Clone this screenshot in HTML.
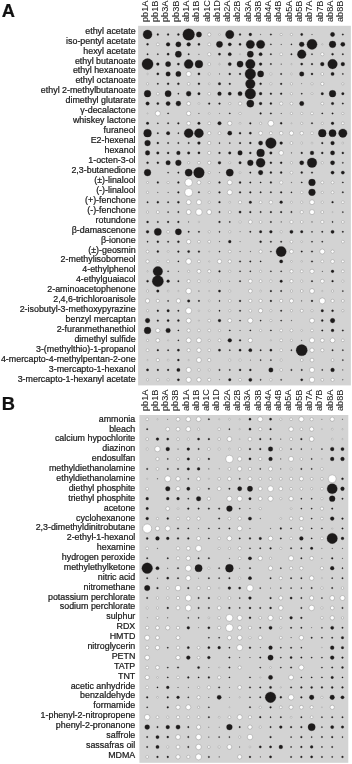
<!DOCTYPE html>
<html lang="en"><head><meta charset="utf-8"><title>Figure</title>
<style>
html,body{margin:0;padding:0;background:#fff}
svg{display:block}
text{font-family:"Liberation Sans",sans-serif;fill:#1a1a1a;stroke:#1a1a1a;stroke-width:.22px}
.r{font-size:8.9px;text-anchor:end}
.c text{font-size:9.2px;stroke-width:.03px}
.L{font-size:18.3px;font-weight:bold;fill:#111}
.k{fill:#1c1a1a;stroke:#1c1a1a;stroke-opacity:.4;stroke-width:.7}
.w{fill:#fff;stroke:#858585;stroke-width:.42}
</style></head>
<body>
<svg width="352" height="764" viewBox="0 0 352 764">
<g id="panelA">
<rect x="138.1" y="25.8" width="212.8" height="359.6" fill="#d3d3d3"/>
<text class="L" x="1.75" y="16.9">A</text>
<g class="c">
<text transform="translate(147.85 22) rotate(-90) scale(1 1)">pb1A</text>
<text transform="translate(158.13 22) rotate(-90) scale(1 1)">pb1B</text>
<text transform="translate(168.41 22) rotate(-90) scale(1 1)">pb3A</text>
<text transform="translate(178.68 22) rotate(-90) scale(1 1)">pb3B</text>
<text transform="translate(188.96 22) rotate(-90) scale(1 1)">ab1A</text>
<text transform="translate(199.24 22) rotate(-90) scale(1 1)">ab1B</text>
<text transform="translate(209.52 22) rotate(-90) scale(1 1)">ab1C</text>
<text transform="translate(219.8 22) rotate(-90) scale(1 1)">ab1D</text>
<text transform="translate(230.07 22) rotate(-90) scale(1 1)">ab2A</text>
<text transform="translate(240.35 22) rotate(-90) scale(1 1)">ab2B</text>
<text transform="translate(250.63 22) rotate(-90) scale(1 1)">ab3A</text>
<text transform="translate(260.91 22) rotate(-90) scale(1 1)">ab3B</text>
<text transform="translate(271.19 22) rotate(-90) scale(1 1)">ab4A</text>
<text transform="translate(281.46 22) rotate(-90) scale(1 1)">ab4B</text>
<text transform="translate(291.74 22) rotate(-90) scale(1 1)">ab5A</text>
<text transform="translate(302.02 22) rotate(-90) scale(1 1)">ab5B</text>
<text transform="translate(312.3 22) rotate(-90) scale(1 1)">ab7A</text>
<text transform="translate(322.58 22) rotate(-90) scale(1 1)">ab7B</text>
<text transform="translate(332.85 22) rotate(-90) scale(1 1)">ab8A</text>
<text transform="translate(343.13 22) rotate(-90) scale(1 1)">ab8B</text>
</g>
<g class="r">
<text x="135.6" y="33.7">ethyl acetate</text>
<text x="135.6" y="43.65">iso-pentyl acetate</text>
<text x="135.6" y="53.59">hexyl acetate</text>
<text x="135.6" y="63.54">ethyl butanoate</text>
<text x="135.6" y="73.48">ethyl hexanoate</text>
<text x="135.6" y="83.43">ethyl octanoate</text>
<text x="135.6" y="93.38">ethyl 2-methylbutanoate</text>
<text x="135.6" y="103.32">dimethyl glutarate</text>
<text x="135.6" y="113.27">γ-decalactone</text>
<text x="135.6" y="123.21">whiskey lactone</text>
<text x="135.6" y="133.16">furaneol</text>
<text x="135.6" y="143.11">E2-hexenal</text>
<text x="135.6" y="153.05">hexanol</text>
<text x="135.6" y="163">1-octen-3-ol</text>
<text x="135.6" y="172.94">2,3-butanedione</text>
<text x="135.6" y="182.89">(±)-linalool</text>
<text x="135.6" y="192.84">(-)-linalool</text>
<text x="135.6" y="202.78">(+)-fenchone</text>
<text x="135.6" y="212.73">(-)-fenchone</text>
<text x="135.6" y="222.67">rotundone</text>
<text x="135.6" y="232.62">β-damascenone</text>
<text x="135.6" y="242.57">β-ionone</text>
<text x="135.6" y="252.51">(±)-geosmin</text>
<text x="135.6" y="262.46">2-methylisoborneol</text>
<text x="135.6" y="272.4">4-ethylphenol</text>
<text x="135.6" y="282.35">4-ethylguaiacol</text>
<text x="135.6" y="292.3">2-aminoacetophenone</text>
<text x="135.6" y="302.24">2,4,6-trichloroanisole</text>
<text x="135.6" y="312.19">2-isobutyl-3-methoxypyrazine</text>
<text x="135.6" y="322.13">benzyl mercaptan</text>
<text x="135.6" y="332.08">2-furanmethanethiol</text>
<text x="135.6" y="342.03">dimethyl sulfide</text>
<text x="135.6" y="351.97">3-(methylthio)-1-propanol</text>
<text x="135.6" y="361.92">4-mercapto-4-methylpentan-2-one</text>
<text x="135.6" y="371.86">3-mercapto-1-hexanol</text>
<text x="135.6" y="381.81">3-mercapto-1-hexanyl acetate</text>
</g>
<g class="k">
<circle cx="147.55" cy="34.5" r="4.51"/>
<circle cx="157.83" cy="34.5" r="0.88"/>
<circle cx="168.11" cy="34.5" r="0.88"/>
<circle cx="178.38" cy="34.5" r="1"/>
<circle cx="188.66" cy="34.5" r="5.85"/>
<circle cx="198.94" cy="34.5" r="2.63"/>
<circle cx="229.77" cy="34.5" r="4.22"/>
<circle cx="240.05" cy="34.5" r="0.88"/>
<circle cx="250.33" cy="34.5" r="1.38"/>
<circle cx="260.61" cy="34.5" r="0.35"/>
<circle cx="270.89" cy="34.5" r="0.76"/>
<circle cx="301.72" cy="34.5" r="1.13"/>
<circle cx="312" cy="34.5" r="0.35"/>
<circle cx="332.55" cy="34.5" r="2.13"/>
<circle cx="342.83" cy="34.5" r="0.76"/>
<circle cx="147.55" cy="44.37" r="1"/>
<circle cx="168.11" cy="44.37" r="1.88"/>
<circle cx="178.38" cy="44.37" r="2.63"/>
<circle cx="188.66" cy="44.37" r="1.88"/>
<circle cx="198.94" cy="44.37" r="1.13"/>
<circle cx="219.5" cy="44.37" r="3.13"/>
<circle cx="229.77" cy="44.37" r="1.63"/>
<circle cx="240.05" cy="44.37" r="1.13"/>
<circle cx="250.33" cy="44.37" r="4.22"/>
<circle cx="260.61" cy="44.37" r="4.22"/>
<circle cx="270.89" cy="44.37" r="0.63"/>
<circle cx="281.16" cy="44.37" r="0.35"/>
<circle cx="291.44" cy="44.37" r="0.63"/>
<circle cx="301.72" cy="44.37" r="2.46"/>
<circle cx="312" cy="44.37" r="5.1"/>
<circle cx="332.55" cy="44.37" r="3.38"/>
<circle cx="342.83" cy="44.37" r="2.13"/>
<circle cx="147.55" cy="54.23" r="0.76"/>
<circle cx="157.83" cy="54.23" r="0.63"/>
<circle cx="168.11" cy="54.23" r="1.13"/>
<circle cx="178.38" cy="54.23" r="3.13"/>
<circle cx="188.66" cy="54.23" r="0.76"/>
<circle cx="198.94" cy="54.23" r="0.35"/>
<circle cx="219.5" cy="54.23" r="1.13"/>
<circle cx="229.77" cy="54.23" r="1.63"/>
<circle cx="250.33" cy="54.23" r="3.13"/>
<circle cx="260.61" cy="54.23" r="1.63"/>
<circle cx="270.89" cy="54.23" r="0.76"/>
<circle cx="291.44" cy="54.23" r="0.76"/>
<circle cx="301.72" cy="54.23" r="4.37"/>
<circle cx="312" cy="54.23" r="0.63"/>
<circle cx="332.55" cy="54.23" r="1"/>
<circle cx="342.83" cy="54.23" r="0.76"/>
<circle cx="147.55" cy="64.1" r="5.6"/>
<circle cx="157.83" cy="64.1" r="1.38"/>
<circle cx="168.11" cy="64.1" r="2.63"/>
<circle cx="178.38" cy="64.1" r="1.13"/>
<circle cx="188.66" cy="64.1" r="4.51"/>
<circle cx="198.94" cy="64.1" r="3.92"/>
<circle cx="229.77" cy="64.1" r="1.63"/>
<circle cx="240.05" cy="64.1" r="3.13"/>
<circle cx="250.33" cy="64.1" r="4.81"/>
<circle cx="260.61" cy="64.1" r="1.38"/>
<circle cx="270.89" cy="64.1" r="0.76"/>
<circle cx="281.16" cy="64.1" r="0.35"/>
<circle cx="301.72" cy="64.1" r="1.13"/>
<circle cx="312" cy="64.1" r="0.88"/>
<circle cx="322.28" cy="64.1" r="1.88"/>
<circle cx="332.55" cy="64.1" r="4.81"/>
<circle cx="342.83" cy="64.1" r="1.88"/>
<circle cx="157.83" cy="73.96" r="1.13"/>
<circle cx="168.11" cy="73.96" r="2.3"/>
<circle cx="178.38" cy="73.96" r="2.63"/>
<circle cx="198.94" cy="73.96" r="1.13"/>
<circle cx="219.5" cy="73.96" r="0.35"/>
<circle cx="229.77" cy="73.96" r="1"/>
<circle cx="240.05" cy="73.96" r="0.88"/>
<circle cx="250.33" cy="73.96" r="5.35"/>
<circle cx="260.61" cy="73.96" r="3.13"/>
<circle cx="281.16" cy="73.96" r="0.76"/>
<circle cx="301.72" cy="73.96" r="2.3"/>
<circle cx="312" cy="73.96" r="1"/>
<circle cx="332.55" cy="73.96" r="1.63"/>
<circle cx="342.83" cy="73.96" r="0.63"/>
<circle cx="157.83" cy="83.83" r="0.76"/>
<circle cx="168.11" cy="83.83" r="1"/>
<circle cx="178.38" cy="83.83" r="1"/>
<circle cx="198.94" cy="83.83" r="1"/>
<circle cx="219.5" cy="83.83" r="1.25"/>
<circle cx="229.77" cy="83.83" r="0.88"/>
<circle cx="250.33" cy="83.83" r="4.81"/>
<circle cx="260.61" cy="83.83" r="1"/>
<circle cx="281.16" cy="83.83" r="0.88"/>
<circle cx="301.72" cy="83.83" r="0.23"/>
<circle cx="147.55" cy="93.7" r="3.38"/>
<circle cx="168.11" cy="93.7" r="3.13"/>
<circle cx="178.38" cy="93.7" r="0.63"/>
<circle cx="188.66" cy="93.7" r="2.46"/>
<circle cx="198.94" cy="93.7" r="1.25"/>
<circle cx="219.5" cy="93.7" r="1.88"/>
<circle cx="229.77" cy="93.7" r="1.63"/>
<circle cx="240.05" cy="93.7" r="2.13"/>
<circle cx="250.33" cy="93.7" r="5.35"/>
<circle cx="260.61" cy="93.7" r="1.38"/>
<circle cx="270.89" cy="93.7" r="0.88"/>
<circle cx="281.16" cy="93.7" r="0.88"/>
<circle cx="301.72" cy="93.7" r="0.63"/>
<circle cx="322.28" cy="93.7" r="1.25"/>
<circle cx="332.55" cy="93.7" r="3.38"/>
<circle cx="342.83" cy="93.7" r="1.25"/>
<circle cx="147.55" cy="103.56" r="1.75"/>
<circle cx="157.83" cy="103.56" r="1.13"/>
<circle cx="168.11" cy="103.56" r="2.13"/>
<circle cx="178.38" cy="103.56" r="2.46"/>
<circle cx="209.22" cy="103.56" r="0.88"/>
<circle cx="219.5" cy="103.56" r="0.88"/>
<circle cx="250.33" cy="103.56" r="3.63"/>
<circle cx="260.61" cy="103.56" r="1.38"/>
<circle cx="270.89" cy="103.56" r="1"/>
<circle cx="301.72" cy="103.56" r="2.21"/>
<circle cx="332.55" cy="103.56" r="1.25"/>
<circle cx="342.83" cy="103.56" r="0.76"/>
<circle cx="168.11" cy="113.43" r="0.63"/>
<circle cx="198.94" cy="113.43" r="0.35"/>
<circle cx="219.5" cy="113.43" r="0.23"/>
<circle cx="229.77" cy="113.43" r="0.63"/>
<circle cx="260.61" cy="113.43" r="0.88"/>
<circle cx="270.89" cy="113.43" r="0.76"/>
<circle cx="281.16" cy="113.43" r="0.35"/>
<circle cx="322.28" cy="113.43" r="0.63"/>
<circle cx="332.55" cy="113.43" r="0.76"/>
<circle cx="147.55" cy="123.29" r="1.25"/>
<circle cx="157.83" cy="123.29" r="0.63"/>
<circle cx="168.11" cy="123.29" r="0.76"/>
<circle cx="178.38" cy="123.29" r="0.88"/>
<circle cx="198.94" cy="123.29" r="1.25"/>
<circle cx="219.5" cy="123.29" r="1.75"/>
<circle cx="250.33" cy="123.29" r="0.88"/>
<circle cx="281.16" cy="123.29" r="1"/>
<circle cx="312" cy="123.29" r="0.76"/>
<circle cx="332.55" cy="123.29" r="1.38"/>
<circle cx="147.55" cy="133.16" r="3.92"/>
<circle cx="157.83" cy="133.16" r="0.76"/>
<circle cx="168.11" cy="133.16" r="1.75"/>
<circle cx="178.38" cy="133.16" r="0.63"/>
<circle cx="188.66" cy="133.16" r="4.51"/>
<circle cx="198.94" cy="133.16" r="4.51"/>
<circle cx="229.77" cy="133.16" r="2.13"/>
<circle cx="240.05" cy="133.16" r="1"/>
<circle cx="250.33" cy="133.16" r="1.13"/>
<circle cx="322.28" cy="133.16" r="3.92"/>
<circle cx="332.55" cy="133.16" r="3.63"/>
<circle cx="342.83" cy="133.16" r="4.22"/>
<circle cx="147.55" cy="143.03" r="2.88"/>
<circle cx="157.83" cy="143.03" r="1"/>
<circle cx="168.11" cy="143.03" r="0.76"/>
<circle cx="178.38" cy="143.03" r="0.76"/>
<circle cx="188.66" cy="143.03" r="0.76"/>
<circle cx="198.94" cy="143.03" r="1.38"/>
<circle cx="219.5" cy="143.03" r="0.63"/>
<circle cx="229.77" cy="143.03" r="0.63"/>
<circle cx="240.05" cy="143.03" r="0.88"/>
<circle cx="250.33" cy="143.03" r="1"/>
<circle cx="260.61" cy="143.03" r="2.13"/>
<circle cx="270.89" cy="143.03" r="5.35"/>
<circle cx="281.16" cy="143.03" r="1.38"/>
<circle cx="322.28" cy="143.03" r="0.88"/>
<circle cx="332.55" cy="143.03" r="1.88"/>
<circle cx="147.55" cy="152.89" r="2.3"/>
<circle cx="157.83" cy="152.89" r="1.25"/>
<circle cx="168.11" cy="152.89" r="1"/>
<circle cx="178.38" cy="152.89" r="1.88"/>
<circle cx="188.66" cy="152.89" r="1.25"/>
<circle cx="198.94" cy="152.89" r="1.13"/>
<circle cx="219.5" cy="152.89" r="0.88"/>
<circle cx="229.77" cy="152.89" r="1.25"/>
<circle cx="240.05" cy="152.89" r="2.3"/>
<circle cx="250.33" cy="152.89" r="1"/>
<circle cx="260.61" cy="152.89" r="3.92"/>
<circle cx="270.89" cy="152.89" r="1.25"/>
<circle cx="291.44" cy="152.89" r="0.35"/>
<circle cx="301.72" cy="152.89" r="0.88"/>
<circle cx="312" cy="152.89" r="1.88"/>
<circle cx="322.28" cy="152.89" r="1"/>
<circle cx="332.55" cy="152.89" r="2.13"/>
<circle cx="342.83" cy="152.89" r="1"/>
<circle cx="147.55" cy="162.76" r="1"/>
<circle cx="157.83" cy="162.76" r="1"/>
<circle cx="168.11" cy="162.76" r="2.3"/>
<circle cx="178.38" cy="162.76" r="2.88"/>
<circle cx="219.5" cy="162.76" r="1.38"/>
<circle cx="240.05" cy="162.76" r="1.25"/>
<circle cx="250.33" cy="162.76" r="2.88"/>
<circle cx="260.61" cy="162.76" r="4.51"/>
<circle cx="270.89" cy="162.76" r="1"/>
<circle cx="281.16" cy="162.76" r="1"/>
<circle cx="301.72" cy="162.76" r="2.13"/>
<circle cx="312" cy="162.76" r="4.81"/>
<circle cx="332.55" cy="162.76" r="2.13"/>
<circle cx="342.83" cy="162.76" r="0.63"/>
<circle cx="147.55" cy="172.62" r="3.38"/>
<circle cx="168.11" cy="172.62" r="0.63"/>
<circle cx="178.38" cy="172.62" r="0.76"/>
<circle cx="188.66" cy="172.62" r="3.63"/>
<circle cx="198.94" cy="172.62" r="5.35"/>
<circle cx="219.5" cy="172.62" r="0.35"/>
<circle cx="229.77" cy="172.62" r="3.63"/>
<circle cx="250.33" cy="172.62" r="0.76"/>
<circle cx="260.61" cy="172.62" r="2.3"/>
<circle cx="270.89" cy="172.62" r="1"/>
<circle cx="281.16" cy="172.62" r="1"/>
<circle cx="301.72" cy="172.62" r="1"/>
<circle cx="312" cy="172.62" r="0.76"/>
<circle cx="332.55" cy="172.62" r="1.63"/>
<circle cx="342.83" cy="172.62" r="1.63"/>
<circle cx="157.83" cy="182.49" r="0.88"/>
<circle cx="178.38" cy="182.49" r="0.88"/>
<circle cx="219.5" cy="182.49" r="0.88"/>
<circle cx="240.05" cy="182.49" r="1"/>
<circle cx="250.33" cy="182.49" r="0.76"/>
<circle cx="260.61" cy="182.49" r="0.63"/>
<circle cx="270.89" cy="182.49" r="0.88"/>
<circle cx="291.44" cy="182.49" r="0.35"/>
<circle cx="301.72" cy="182.49" r="0.63"/>
<circle cx="312" cy="182.49" r="3.38"/>
<circle cx="342.83" cy="182.49" r="0.63"/>
<circle cx="157.83" cy="192.36" r="0.35"/>
<circle cx="168.11" cy="192.36" r="0.35"/>
<circle cx="178.38" cy="192.36" r="0.88"/>
<circle cx="198.94" cy="192.36" r="0.76"/>
<circle cx="219.5" cy="192.36" r="0.88"/>
<circle cx="240.05" cy="192.36" r="0.88"/>
<circle cx="250.33" cy="192.36" r="0.88"/>
<circle cx="260.61" cy="192.36" r="0.76"/>
<circle cx="270.89" cy="192.36" r="0.76"/>
<circle cx="281.16" cy="192.36" r="0.88"/>
<circle cx="291.44" cy="192.36" r="0.63"/>
<circle cx="312" cy="192.36" r="3.38"/>
<circle cx="342.83" cy="192.36" r="0.76"/>
<circle cx="147.55" cy="202.22" r="0.76"/>
<circle cx="157.83" cy="202.22" r="1"/>
<circle cx="168.11" cy="202.22" r="0.76"/>
<circle cx="178.38" cy="202.22" r="1"/>
<circle cx="219.5" cy="202.22" r="0.88"/>
<circle cx="250.33" cy="202.22" r="1.25"/>
<circle cx="281.16" cy="202.22" r="1.38"/>
<circle cx="332.55" cy="202.22" r="0.88"/>
<circle cx="168.11" cy="212.09" r="0.63"/>
<circle cx="178.38" cy="212.09" r="0.76"/>
<circle cx="219.5" cy="212.09" r="0.76"/>
<circle cx="240.05" cy="212.09" r="1.13"/>
<circle cx="250.33" cy="212.09" r="0.88"/>
<circle cx="260.61" cy="212.09" r="0.76"/>
<circle cx="270.89" cy="212.09" r="0.88"/>
<circle cx="281.16" cy="212.09" r="0.88"/>
<circle cx="291.44" cy="212.09" r="0.76"/>
<circle cx="342.83" cy="212.09" r="0.63"/>
<circle cx="147.55" cy="221.95" r="1"/>
<circle cx="157.83" cy="221.95" r="0.76"/>
<circle cx="168.11" cy="221.95" r="0.88"/>
<circle cx="178.38" cy="221.95" r="0.88"/>
<circle cx="188.66" cy="221.95" r="0.35"/>
<circle cx="219.5" cy="221.95" r="0.88"/>
<circle cx="229.77" cy="221.95" r="0.63"/>
<circle cx="270.89" cy="221.95" r="0.76"/>
<circle cx="281.16" cy="221.95" r="0.35"/>
<circle cx="312" cy="221.95" r="0.35"/>
<circle cx="332.55" cy="221.95" r="0.63"/>
<circle cx="147.55" cy="231.82" r="1.38"/>
<circle cx="157.83" cy="231.82" r="3.63"/>
<circle cx="178.38" cy="231.82" r="3.13"/>
<circle cx="188.66" cy="231.82" r="0.76"/>
<circle cx="198.94" cy="231.82" r="0.76"/>
<circle cx="219.5" cy="231.82" r="0.63"/>
<circle cx="240.05" cy="231.82" r="0.23"/>
<circle cx="250.33" cy="231.82" r="0.76"/>
<circle cx="260.61" cy="231.82" r="1.25"/>
<circle cx="270.89" cy="231.82" r="1.38"/>
<circle cx="291.44" cy="231.82" r="1.63"/>
<circle cx="301.72" cy="231.82" r="1.25"/>
<circle cx="312" cy="231.82" r="0.63"/>
<circle cx="322.28" cy="231.82" r="0.76"/>
<circle cx="332.55" cy="231.82" r="1.63"/>
<circle cx="342.83" cy="231.82" r="0.76"/>
<circle cx="147.55" cy="241.69" r="0.63"/>
<circle cx="157.83" cy="241.69" r="1"/>
<circle cx="168.11" cy="241.69" r="0.76"/>
<circle cx="178.38" cy="241.69" r="1"/>
<circle cx="219.5" cy="241.69" r="0.35"/>
<circle cx="229.77" cy="241.69" r="1.38"/>
<circle cx="240.05" cy="241.69" r="0.23"/>
<circle cx="260.61" cy="241.69" r="1"/>
<circle cx="270.89" cy="241.69" r="0.76"/>
<circle cx="281.16" cy="241.69" r="0.76"/>
<circle cx="312" cy="241.69" r="0.63"/>
<circle cx="322.28" cy="241.69" r="0.63"/>
<circle cx="157.83" cy="251.55" r="1"/>
<circle cx="178.38" cy="251.55" r="0.88"/>
<circle cx="188.66" cy="251.55" r="1.13"/>
<circle cx="198.94" cy="251.55" r="0.88"/>
<circle cx="219.5" cy="251.55" r="0.63"/>
<circle cx="240.05" cy="251.55" r="0.35"/>
<circle cx="250.33" cy="251.55" r="0.35"/>
<circle cx="270.89" cy="251.55" r="0.63"/>
<circle cx="281.16" cy="251.55" r="5.1"/>
<circle cx="301.72" cy="251.55" r="0.76"/>
<circle cx="312" cy="251.55" r="0.76"/>
<circle cx="178.38" cy="261.42" r="0.63"/>
<circle cx="240.05" cy="261.42" r="0.76"/>
<circle cx="250.33" cy="261.42" r="0.76"/>
<circle cx="260.61" cy="261.42" r="0.63"/>
<circle cx="281.16" cy="261.42" r="1.63"/>
<circle cx="312" cy="261.42" r="0.76"/>
<circle cx="157.83" cy="271.28" r="4.81"/>
<circle cx="168.11" cy="271.28" r="0.63"/>
<circle cx="178.38" cy="271.28" r="0.35"/>
<circle cx="219.5" cy="271.28" r="0.88"/>
<circle cx="240.05" cy="271.28" r="0.63"/>
<circle cx="250.33" cy="271.28" r="0.63"/>
<circle cx="270.89" cy="271.28" r="0.63"/>
<circle cx="281.16" cy="271.28" r="0.63"/>
<circle cx="322.28" cy="271.28" r="0.35"/>
<circle cx="332.55" cy="271.28" r="1.38"/>
<circle cx="147.55" cy="281.15" r="1"/>
<circle cx="157.83" cy="281.15" r="5.6"/>
<circle cx="168.11" cy="281.15" r="1.38"/>
<circle cx="178.38" cy="281.15" r="0.76"/>
<circle cx="229.77" cy="281.15" r="0.23"/>
<circle cx="240.05" cy="281.15" r="0.76"/>
<circle cx="281.16" cy="281.15" r="1.25"/>
<circle cx="312" cy="281.15" r="0.76"/>
<circle cx="332.55" cy="281.15" r="0.88"/>
<circle cx="157.83" cy="291.02" r="1.25"/>
<circle cx="198.94" cy="291.02" r="0.35"/>
<circle cx="219.5" cy="291.02" r="1.13"/>
<circle cx="270.89" cy="291.02" r="0.88"/>
<circle cx="281.16" cy="291.02" r="0.76"/>
<circle cx="342.83" cy="291.02" r="0.63"/>
<circle cx="168.11" cy="300.88" r="0.63"/>
<circle cx="188.66" cy="300.88" r="1.25"/>
<circle cx="198.94" cy="300.88" r="0.76"/>
<circle cx="219.5" cy="300.88" r="0.63"/>
<circle cx="240.05" cy="300.88" r="0.88"/>
<circle cx="270.89" cy="300.88" r="0.88"/>
<circle cx="301.72" cy="300.88" r="0.35"/>
<circle cx="312" cy="300.88" r="0.88"/>
<circle cx="157.83" cy="310.75" r="0.88"/>
<circle cx="168.11" cy="310.75" r="1.25"/>
<circle cx="178.38" cy="310.75" r="0.76"/>
<circle cx="219.5" cy="310.75" r="0.63"/>
<circle cx="240.05" cy="310.75" r="0.76"/>
<circle cx="281.16" cy="310.75" r="0.76"/>
<circle cx="322.28" cy="310.75" r="1.25"/>
<circle cx="332.55" cy="310.75" r="1"/>
<circle cx="147.55" cy="320.61" r="2.3"/>
<circle cx="157.83" cy="320.61" r="0.88"/>
<circle cx="168.11" cy="320.61" r="1.13"/>
<circle cx="178.38" cy="320.61" r="1"/>
<circle cx="219.5" cy="320.61" r="1.38"/>
<circle cx="240.05" cy="320.61" r="0.63"/>
<circle cx="260.61" cy="320.61" r="0.63"/>
<circle cx="281.16" cy="320.61" r="0.63"/>
<circle cx="291.44" cy="320.61" r="0.35"/>
<circle cx="322.28" cy="320.61" r="1"/>
<circle cx="332.55" cy="320.61" r="2.3"/>
<circle cx="147.55" cy="330.48" r="3.38"/>
<circle cx="168.11" cy="330.48" r="2.3"/>
<circle cx="178.38" cy="330.48" r="0.63"/>
<circle cx="229.77" cy="330.48" r="0.63"/>
<circle cx="240.05" cy="330.48" r="0.35"/>
<circle cx="250.33" cy="330.48" r="0.63"/>
<circle cx="270.89" cy="330.48" r="0.63"/>
<circle cx="322.28" cy="330.48" r="0.76"/>
<circle cx="332.55" cy="330.48" r="1.38"/>
<circle cx="342.83" cy="330.48" r="0.76"/>
<circle cx="178.38" cy="340.35" r="0.63"/>
<circle cx="229.77" cy="340.35" r="1.88"/>
<circle cx="240.05" cy="340.35" r="0.88"/>
<circle cx="301.72" cy="340.35" r="0.35"/>
<circle cx="157.83" cy="350.21" r="0.88"/>
<circle cx="168.11" cy="350.21" r="0.76"/>
<circle cx="178.38" cy="350.21" r="1.13"/>
<circle cx="219.5" cy="350.21" r="1.13"/>
<circle cx="229.77" cy="350.21" r="0.63"/>
<circle cx="240.05" cy="350.21" r="1.13"/>
<circle cx="250.33" cy="350.21" r="1.63"/>
<circle cx="260.61" cy="350.21" r="0.76"/>
<circle cx="270.89" cy="350.21" r="1.13"/>
<circle cx="291.44" cy="350.21" r="0.63"/>
<circle cx="301.72" cy="350.21" r="5.6"/>
<circle cx="332.55" cy="350.21" r="0.76"/>
<circle cx="342.83" cy="350.21" r="0.63"/>
<circle cx="178.38" cy="360.08" r="1"/>
<circle cx="250.33" cy="360.08" r="0.23"/>
<circle cx="260.61" cy="360.08" r="0.63"/>
<circle cx="270.89" cy="360.08" r="0.63"/>
<circle cx="342.83" cy="360.08" r="0.63"/>
<circle cx="147.55" cy="369.94" r="1.13"/>
<circle cx="157.83" cy="369.94" r="0.88"/>
<circle cx="168.11" cy="369.94" r="0.88"/>
<circle cx="178.38" cy="369.94" r="1.63"/>
<circle cx="219.5" cy="369.94" r="0.76"/>
<circle cx="229.77" cy="369.94" r="0.63"/>
<circle cx="240.05" cy="369.94" r="1"/>
<circle cx="250.33" cy="369.94" r="1"/>
<circle cx="270.89" cy="369.94" r="2.21"/>
<circle cx="291.44" cy="369.94" r="0.76"/>
<circle cx="301.72" cy="369.94" r="0.76"/>
<circle cx="322.28" cy="369.94" r="0.63"/>
<circle cx="332.55" cy="369.94" r="1.88"/>
<circle cx="342.83" cy="369.94" r="0.35"/>
<circle cx="178.38" cy="379.81" r="1.13"/>
<circle cx="219.5" cy="379.81" r="0.23"/>
<circle cx="229.77" cy="379.81" r="1.25"/>
<circle cx="250.33" cy="379.81" r="1.63"/>
<circle cx="260.61" cy="379.81" r="0.63"/>
<circle cx="281.16" cy="379.81" r="0.63"/>
<circle cx="301.72" cy="379.81" r="1.13"/>
<circle cx="342.83" cy="379.81" r="0.35"/>
</g>
<g class="w">
<circle cx="209.22" cy="34.5" r="1.62"/>
<circle cx="219.5" cy="34.5" r="0.88"/>
<circle cx="281.16" cy="34.5" r="1.12"/>
<circle cx="291.44" cy="34.5" r="1.12"/>
<circle cx="157.83" cy="44.37" r="1.38"/>
<circle cx="209.22" cy="44.37" r="1.38"/>
<circle cx="322.28" cy="44.37" r="0.62"/>
<circle cx="209.22" cy="54.23" r="1.62"/>
<circle cx="240.05" cy="54.23" r="0.62"/>
<circle cx="281.16" cy="54.23" r="1.38"/>
<circle cx="322.28" cy="54.23" r="1.62"/>
<circle cx="209.22" cy="64.1" r="1.38"/>
<circle cx="219.5" cy="64.1" r="0.75"/>
<circle cx="291.44" cy="64.1" r="0.62"/>
<circle cx="147.55" cy="73.96" r="0.75"/>
<circle cx="188.66" cy="73.96" r="2.5"/>
<circle cx="209.22" cy="73.96" r="1.12"/>
<circle cx="270.89" cy="73.96" r="1.12"/>
<circle cx="291.44" cy="73.96" r="0.88"/>
<circle cx="322.28" cy="73.96" r="1.38"/>
<circle cx="147.55" cy="83.83" r="1.12"/>
<circle cx="188.66" cy="83.83" r="1.38"/>
<circle cx="209.22" cy="83.83" r="0.88"/>
<circle cx="270.89" cy="83.83" r="1.12"/>
<circle cx="291.44" cy="83.83" r="1.12"/>
<circle cx="312" cy="83.83" r="1.12"/>
<circle cx="322.28" cy="83.83" r="1.62"/>
<circle cx="342.83" cy="83.83" r="1.12"/>
<circle cx="157.83" cy="93.7" r="1.38"/>
<circle cx="209.22" cy="93.7" r="1.38"/>
<circle cx="291.44" cy="93.7" r="1.12"/>
<circle cx="312" cy="93.7" r="1"/>
<circle cx="188.66" cy="103.56" r="1.88"/>
<circle cx="198.94" cy="103.56" r="0.88"/>
<circle cx="229.77" cy="103.56" r="1.12"/>
<circle cx="240.05" cy="103.56" r="1.62"/>
<circle cx="281.16" cy="103.56" r="1.62"/>
<circle cx="291.44" cy="103.56" r="1.38"/>
<circle cx="322.28" cy="103.56" r="1.38"/>
<circle cx="147.55" cy="113.43" r="0.5"/>
<circle cx="157.83" cy="113.43" r="2.5"/>
<circle cx="188.66" cy="113.43" r="2.12"/>
<circle cx="209.22" cy="113.43" r="0.88"/>
<circle cx="240.05" cy="113.43" r="1.12"/>
<circle cx="291.44" cy="113.43" r="1.12"/>
<circle cx="301.72" cy="113.43" r="1.12"/>
<circle cx="312" cy="113.43" r="1.38"/>
<circle cx="342.83" cy="113.43" r="1.12"/>
<circle cx="188.66" cy="123.29" r="1.88"/>
<circle cx="209.22" cy="123.29" r="1.38"/>
<circle cx="229.77" cy="123.29" r="2.12"/>
<circle cx="240.05" cy="123.29" r="0.88"/>
<circle cx="260.61" cy="123.29" r="1.12"/>
<circle cx="270.89" cy="123.29" r="2.88"/>
<circle cx="291.44" cy="123.29" r="0.5"/>
<circle cx="301.72" cy="123.29" r="1.12"/>
<circle cx="322.28" cy="123.29" r="1.12"/>
<circle cx="342.83" cy="123.29" r="1.38"/>
<circle cx="209.22" cy="133.16" r="1.62"/>
<circle cx="219.5" cy="133.16" r="1.38"/>
<circle cx="260.61" cy="133.16" r="1.88"/>
<circle cx="270.89" cy="133.16" r="1.5"/>
<circle cx="281.16" cy="133.16" r="1.75"/>
<circle cx="291.44" cy="133.16" r="2.12"/>
<circle cx="301.72" cy="133.16" r="1.75"/>
<circle cx="312" cy="133.16" r="1.38"/>
<circle cx="209.22" cy="143.03" r="1.62"/>
<circle cx="291.44" cy="143.03" r="1.38"/>
<circle cx="301.72" cy="143.03" r="1"/>
<circle cx="312" cy="143.03" r="0.88"/>
<circle cx="342.83" cy="143.03" r="0.88"/>
<circle cx="209.22" cy="152.89" r="1.62"/>
<circle cx="281.16" cy="152.89" r="2.25"/>
<circle cx="188.66" cy="162.76" r="1.12"/>
<circle cx="198.94" cy="162.76" r="1.38"/>
<circle cx="209.22" cy="162.76" r="1.62"/>
<circle cx="229.77" cy="162.76" r="1"/>
<circle cx="291.44" cy="162.76" r="1.12"/>
<circle cx="322.28" cy="162.76" r="1.12"/>
<circle cx="209.22" cy="172.62" r="1.12"/>
<circle cx="240.05" cy="172.62" r="0.88"/>
<circle cx="291.44" cy="172.62" r="1.38"/>
<circle cx="147.55" cy="182.49" r="1"/>
<circle cx="168.11" cy="182.49" r="1.12"/>
<circle cx="188.66" cy="182.49" r="3.75"/>
<circle cx="198.94" cy="182.49" r="1.88"/>
<circle cx="209.22" cy="182.49" r="1.12"/>
<circle cx="229.77" cy="182.49" r="2.38"/>
<circle cx="281.16" cy="182.49" r="1.62"/>
<circle cx="322.28" cy="182.49" r="1.38"/>
<circle cx="332.55" cy="182.49" r="1.38"/>
<circle cx="147.55" cy="192.36" r="1.12"/>
<circle cx="188.66" cy="192.36" r="4"/>
<circle cx="209.22" cy="192.36" r="1.12"/>
<circle cx="229.77" cy="192.36" r="2.5"/>
<circle cx="301.72" cy="192.36" r="1.25"/>
<circle cx="322.28" cy="192.36" r="1.12"/>
<circle cx="332.55" cy="192.36" r="1.38"/>
<circle cx="188.66" cy="202.22" r="2.38"/>
<circle cx="198.94" cy="202.22" r="2.5"/>
<circle cx="209.22" cy="202.22" r="1.12"/>
<circle cx="229.77" cy="202.22" r="0.88"/>
<circle cx="240.05" cy="202.22" r="1.62"/>
<circle cx="260.61" cy="202.22" r="1.38"/>
<circle cx="270.89" cy="202.22" r="1.75"/>
<circle cx="291.44" cy="202.22" r="1"/>
<circle cx="301.72" cy="202.22" r="1.12"/>
<circle cx="312" cy="202.22" r="2.38"/>
<circle cx="322.28" cy="202.22" r="1.12"/>
<circle cx="342.83" cy="202.22" r="1.38"/>
<circle cx="147.55" cy="212.09" r="1.12"/>
<circle cx="157.83" cy="212.09" r="1.5"/>
<circle cx="188.66" cy="212.09" r="2.38"/>
<circle cx="198.94" cy="212.09" r="3.25"/>
<circle cx="209.22" cy="212.09" r="2.38"/>
<circle cx="229.77" cy="212.09" r="1.38"/>
<circle cx="301.72" cy="212.09" r="1.62"/>
<circle cx="312" cy="212.09" r="2.5"/>
<circle cx="322.28" cy="212.09" r="1.38"/>
<circle cx="332.55" cy="212.09" r="0.5"/>
<circle cx="198.94" cy="221.95" r="0.75"/>
<circle cx="240.05" cy="221.95" r="1.12"/>
<circle cx="250.33" cy="221.95" r="1.88"/>
<circle cx="260.61" cy="221.95" r="1.38"/>
<circle cx="291.44" cy="221.95" r="1.62"/>
<circle cx="301.72" cy="221.95" r="1.38"/>
<circle cx="322.28" cy="221.95" r="1.62"/>
<circle cx="342.83" cy="221.95" r="1.38"/>
<circle cx="168.11" cy="231.82" r="1.38"/>
<circle cx="209.22" cy="231.82" r="1.12"/>
<circle cx="229.77" cy="231.82" r="1.12"/>
<circle cx="281.16" cy="231.82" r="1.12"/>
<circle cx="188.66" cy="241.69" r="2.12"/>
<circle cx="198.94" cy="241.69" r="1.38"/>
<circle cx="209.22" cy="241.69" r="1.38"/>
<circle cx="291.44" cy="241.69" r="1.38"/>
<circle cx="301.72" cy="241.69" r="0.88"/>
<circle cx="342.83" cy="241.69" r="1.38"/>
<circle cx="147.55" cy="251.55" r="1.38"/>
<circle cx="168.11" cy="251.55" r="0.88"/>
<circle cx="209.22" cy="251.55" r="0.5"/>
<circle cx="229.77" cy="251.55" r="1.38"/>
<circle cx="260.61" cy="251.55" r="1.62"/>
<circle cx="291.44" cy="251.55" r="1.88"/>
<circle cx="322.28" cy="251.55" r="2.5"/>
<circle cx="332.55" cy="251.55" r="1.62"/>
<circle cx="147.55" cy="261.42" r="1.62"/>
<circle cx="157.83" cy="261.42" r="1.12"/>
<circle cx="168.11" cy="261.42" r="1.38"/>
<circle cx="188.66" cy="261.42" r="2.75"/>
<circle cx="198.94" cy="261.42" r="1.38"/>
<circle cx="209.22" cy="261.42" r="0.62"/>
<circle cx="219.5" cy="261.42" r="2.12"/>
<circle cx="229.77" cy="261.42" r="1.62"/>
<circle cx="291.44" cy="261.42" r="0.88"/>
<circle cx="301.72" cy="261.42" r="0.75"/>
<circle cx="322.28" cy="261.42" r="1.38"/>
<circle cx="332.55" cy="261.42" r="1.88"/>
<circle cx="342.83" cy="261.42" r="1.38"/>
<circle cx="147.55" cy="271.28" r="0.62"/>
<circle cx="188.66" cy="271.28" r="1.12"/>
<circle cx="198.94" cy="271.28" r="1.88"/>
<circle cx="209.22" cy="271.28" r="1.62"/>
<circle cx="229.77" cy="271.28" r="1.12"/>
<circle cx="260.61" cy="271.28" r="1.12"/>
<circle cx="291.44" cy="271.28" r="1.62"/>
<circle cx="301.72" cy="271.28" r="1.38"/>
<circle cx="312" cy="271.28" r="2.12"/>
<circle cx="342.83" cy="271.28" r="1.38"/>
<circle cx="188.66" cy="281.15" r="1.62"/>
<circle cx="198.94" cy="281.15" r="1.38"/>
<circle cx="209.22" cy="281.15" r="1.12"/>
<circle cx="219.5" cy="281.15" r="1.12"/>
<circle cx="250.33" cy="281.15" r="1.88"/>
<circle cx="260.61" cy="281.15" r="1.38"/>
<circle cx="270.89" cy="281.15" r="1.25"/>
<circle cx="291.44" cy="281.15" r="1.62"/>
<circle cx="301.72" cy="281.15" r="1.12"/>
<circle cx="322.28" cy="281.15" r="1.88"/>
<circle cx="342.83" cy="281.15" r="1.12"/>
<circle cx="147.55" cy="291.02" r="1.12"/>
<circle cx="168.11" cy="291.02" r="0.88"/>
<circle cx="178.38" cy="291.02" r="0.62"/>
<circle cx="188.66" cy="291.02" r="2.75"/>
<circle cx="209.22" cy="291.02" r="0.62"/>
<circle cx="229.77" cy="291.02" r="1.12"/>
<circle cx="250.33" cy="291.02" r="1.88"/>
<circle cx="260.61" cy="291.02" r="0.88"/>
<circle cx="291.44" cy="291.02" r="1.12"/>
<circle cx="301.72" cy="291.02" r="1.38"/>
<circle cx="312" cy="291.02" r="2.38"/>
<circle cx="322.28" cy="291.02" r="0.62"/>
<circle cx="332.55" cy="291.02" r="1.12"/>
<circle cx="147.55" cy="300.88" r="2.12"/>
<circle cx="157.83" cy="300.88" r="1.62"/>
<circle cx="178.38" cy="300.88" r="2.12"/>
<circle cx="209.22" cy="300.88" r="0.88"/>
<circle cx="229.77" cy="300.88" r="1.38"/>
<circle cx="250.33" cy="300.88" r="1.62"/>
<circle cx="260.61" cy="300.88" r="1.62"/>
<circle cx="281.16" cy="300.88" r="1.62"/>
<circle cx="291.44" cy="300.88" r="2"/>
<circle cx="322.28" cy="300.88" r="3"/>
<circle cx="332.55" cy="300.88" r="1.62"/>
<circle cx="342.83" cy="300.88" r="1.38"/>
<circle cx="147.55" cy="310.75" r="1.12"/>
<circle cx="188.66" cy="310.75" r="3"/>
<circle cx="198.94" cy="310.75" r="0.75"/>
<circle cx="209.22" cy="310.75" r="0.88"/>
<circle cx="229.77" cy="310.75" r="1.12"/>
<circle cx="250.33" cy="310.75" r="1.38"/>
<circle cx="260.61" cy="310.75" r="2.12"/>
<circle cx="270.89" cy="310.75" r="1.12"/>
<circle cx="291.44" cy="310.75" r="1.12"/>
<circle cx="301.72" cy="310.75" r="1.5"/>
<circle cx="312" cy="310.75" r="1.12"/>
<circle cx="342.83" cy="310.75" r="1.12"/>
<circle cx="188.66" cy="320.61" r="2.38"/>
<circle cx="198.94" cy="320.61" r="0.62"/>
<circle cx="209.22" cy="320.61" r="1.38"/>
<circle cx="229.77" cy="320.61" r="1.88"/>
<circle cx="250.33" cy="320.61" r="2.5"/>
<circle cx="270.89" cy="320.61" r="1.12"/>
<circle cx="312" cy="320.61" r="2.38"/>
<circle cx="157.83" cy="330.48" r="2.12"/>
<circle cx="188.66" cy="330.48" r="1.62"/>
<circle cx="198.94" cy="330.48" r="1.38"/>
<circle cx="209.22" cy="330.48" r="1.38"/>
<circle cx="219.5" cy="330.48" r="1.12"/>
<circle cx="260.61" cy="330.48" r="1.12"/>
<circle cx="281.16" cy="330.48" r="1.38"/>
<circle cx="291.44" cy="330.48" r="1.38"/>
<circle cx="301.72" cy="330.48" r="0.88"/>
<circle cx="312" cy="330.48" r="1.38"/>
<circle cx="147.55" cy="340.35" r="1.12"/>
<circle cx="157.83" cy="340.35" r="1.88"/>
<circle cx="168.11" cy="340.35" r="0.62"/>
<circle cx="188.66" cy="340.35" r="2.38"/>
<circle cx="198.94" cy="340.35" r="2.38"/>
<circle cx="209.22" cy="340.35" r="1.12"/>
<circle cx="219.5" cy="340.35" r="1.38"/>
<circle cx="250.33" cy="340.35" r="2.12"/>
<circle cx="270.89" cy="340.35" r="0.62"/>
<circle cx="281.16" cy="340.35" r="1.38"/>
<circle cx="291.44" cy="340.35" r="1.12"/>
<circle cx="312" cy="340.35" r="2.5"/>
<circle cx="322.28" cy="340.35" r="1.88"/>
<circle cx="332.55" cy="340.35" r="2.38"/>
<circle cx="342.83" cy="340.35" r="1.38"/>
<circle cx="147.55" cy="350.21" r="1.38"/>
<circle cx="188.66" cy="350.21" r="1.62"/>
<circle cx="198.94" cy="350.21" r="2.12"/>
<circle cx="209.22" cy="350.21" r="1.38"/>
<circle cx="281.16" cy="350.21" r="1.38"/>
<circle cx="312" cy="350.21" r="2.12"/>
<circle cx="322.28" cy="350.21" r="1.62"/>
<circle cx="147.55" cy="360.08" r="0.62"/>
<circle cx="157.83" cy="360.08" r="1.62"/>
<circle cx="168.11" cy="360.08" r="0.88"/>
<circle cx="188.66" cy="360.08" r="0.62"/>
<circle cx="198.94" cy="360.08" r="2.38"/>
<circle cx="209.22" cy="360.08" r="1.62"/>
<circle cx="229.77" cy="360.08" r="1.12"/>
<circle cx="240.05" cy="360.08" r="1.12"/>
<circle cx="281.16" cy="360.08" r="1.12"/>
<circle cx="301.72" cy="360.08" r="1.38"/>
<circle cx="312" cy="360.08" r="1.88"/>
<circle cx="332.55" cy="360.08" r="1.38"/>
<circle cx="188.66" cy="369.94" r="2.5"/>
<circle cx="198.94" cy="369.94" r="1.38"/>
<circle cx="209.22" cy="369.94" r="1.12"/>
<circle cx="281.16" cy="369.94" r="1.38"/>
<circle cx="312" cy="369.94" r="2.5"/>
<circle cx="147.55" cy="379.81" r="1.12"/>
<circle cx="157.83" cy="379.81" r="1.38"/>
<circle cx="168.11" cy="379.81" r="1.12"/>
<circle cx="188.66" cy="379.81" r="2.5"/>
<circle cx="198.94" cy="379.81" r="2.12"/>
<circle cx="209.22" cy="379.81" r="1.62"/>
<circle cx="240.05" cy="379.81" r="1.38"/>
<circle cx="270.89" cy="379.81" r="1.25"/>
<circle cx="312" cy="379.81" r="2.62"/>
<circle cx="322.28" cy="379.81" r="1.38"/>
<circle cx="332.55" cy="379.81" r="1.62"/>
</g>
</g>
<g id="panelB">
<rect x="139.4" y="415" width="208.9" height="347.8" fill="#d3d3d3"/>
<text class="L" x="1.75" y="410">B</text>
<g class="c">
<text transform="translate(147.5 411) rotate(-90) scale(1 1)">pb1A</text>
<text transform="translate(157.78 411) rotate(-90) scale(1 1)">pb1B</text>
<text transform="translate(168.06 411) rotate(-90) scale(1 1)">pb3A</text>
<text transform="translate(178.33 411) rotate(-90) scale(1 1)">pb3B</text>
<text transform="translate(188.61 411) rotate(-90) scale(1 1)">ab1A</text>
<text transform="translate(198.89 411) rotate(-90) scale(1 1)">ab1B</text>
<text transform="translate(209.17 411) rotate(-90) scale(1 1)">ab1C</text>
<text transform="translate(219.45 411) rotate(-90) scale(1 1)">ab1D</text>
<text transform="translate(229.72 411) rotate(-90) scale(1 1)">ab2A</text>
<text transform="translate(240 411) rotate(-90) scale(1 1)">ab2B</text>
<text transform="translate(250.28 411) rotate(-90) scale(1 1)">ab3A</text>
<text transform="translate(260.56 411) rotate(-90) scale(1 1)">ab3B</text>
<text transform="translate(270.84 411) rotate(-90) scale(1 1)">ab4A</text>
<text transform="translate(281.11 411) rotate(-90) scale(1 1)">ab4B</text>
<text transform="translate(291.39 411) rotate(-90) scale(1 1)">ab5A</text>
<text transform="translate(301.67 411) rotate(-90) scale(1 1)">ab5B</text>
<text transform="translate(311.95 411) rotate(-90) scale(1 1)">ab7A</text>
<text transform="translate(322.23 411) rotate(-90) scale(1 1)">ab7B</text>
<text transform="translate(332.5 411) rotate(-90) scale(1 1)">ab8A</text>
<text transform="translate(342.78 411) rotate(-90) scale(1 1)">ab8B</text>
</g>
<g class="r">
<text x="135.3" y="421.7">ammonia</text>
<text x="135.3" y="431.58">bleach</text>
<text x="135.3" y="441.46">calcium hypochlorite</text>
<text x="135.3" y="451.35">diazinon</text>
<text x="135.3" y="461.23">endosulfan</text>
<text x="135.3" y="471.11">methyldiethanolamine</text>
<text x="135.3" y="480.99">ethyldiethanolamine</text>
<text x="135.3" y="490.87">diethyl phosphite</text>
<text x="135.3" y="500.76">triethyl phosphite</text>
<text x="135.3" y="510.64">acetone</text>
<text x="135.3" y="520.52">cyclohexanone</text>
<text x="135.3" y="530.4">2,3-dimethyldinitrobutane</text>
<text x="135.3" y="540.28">2-ethyl-1-hexanol</text>
<text x="135.3" y="550.17">hexamine</text>
<text x="135.3" y="560.05">hydrogen peroxide</text>
<text x="135.3" y="569.93">methylethylketone</text>
<text x="135.3" y="579.81">nitric acid</text>
<text x="135.3" y="589.69">nitromethane</text>
<text x="135.3" y="599.58">potassium perchlorate</text>
<text x="135.3" y="609.46">sodium perchlorate</text>
<text x="135.3" y="619.34">sulphur</text>
<text x="135.3" y="629.22">RDX</text>
<text x="135.3" y="639.1">HMTD</text>
<text x="135.3" y="648.99">nitroglycerin</text>
<text x="135.3" y="658.87">PETN</text>
<text x="135.3" y="668.75">TATP</text>
<text x="135.3" y="678.63">TNT</text>
<text x="135.3" y="688.51">acetic anhydride</text>
<text x="135.3" y="698.4">benzaldehyde</text>
<text x="135.3" y="708.28">formamide</text>
<text x="135.3" y="718.16">1-phenyl-2-nitropropene</text>
<text x="135.3" y="728.04">phenyl-2-pronanone</text>
<text x="135.3" y="737.92">saffrole</text>
<text x="135.3" y="747.81">sassafras oil</text>
<text x="135.3" y="757.69">MDMA</text>
</g>
<g class="k">
<circle cx="167.76" cy="419.23" r="0.23"/>
<circle cx="208.87" cy="419.23" r="0.76"/>
<circle cx="249.98" cy="419.23" r="1.13"/>
<circle cx="270.54" cy="419.23" r="1.13"/>
<circle cx="321.93" cy="419.23" r="0.23"/>
<circle cx="342.48" cy="419.23" r="0.35"/>
<circle cx="147.2" cy="429.16" r="0.76"/>
<circle cx="229.42" cy="429.16" r="0.63"/>
<circle cx="249.98" cy="429.16" r="1.13"/>
<circle cx="270.54" cy="429.16" r="0.88"/>
<circle cx="157.48" cy="439.09" r="1.38"/>
<circle cx="167.76" cy="439.09" r="1.13"/>
<circle cx="198.59" cy="439.09" r="1.13"/>
<circle cx="208.87" cy="439.09" r="0.88"/>
<circle cx="260.26" cy="439.09" r="0.88"/>
<circle cx="270.54" cy="439.09" r="0.76"/>
<circle cx="280.81" cy="439.09" r="0.35"/>
<circle cx="301.37" cy="439.09" r="0.88"/>
<circle cx="167.76" cy="449.03" r="1.88"/>
<circle cx="178.03" cy="449.03" r="0.35"/>
<circle cx="188.31" cy="449.03" r="1.38"/>
<circle cx="198.59" cy="449.03" r="0.76"/>
<circle cx="249.98" cy="449.03" r="0.88"/>
<circle cx="260.26" cy="449.03" r="0.88"/>
<circle cx="270.54" cy="449.03" r="2.3"/>
<circle cx="291.09" cy="449.03" r="0.63"/>
<circle cx="301.37" cy="449.03" r="0.63"/>
<circle cx="311.65" cy="449.03" r="0.23"/>
<circle cx="321.93" cy="449.03" r="0.63"/>
<circle cx="332.2" cy="449.03" r="1.88"/>
<circle cx="342.48" cy="449.03" r="1.63"/>
<circle cx="167.76" cy="458.96" r="0.63"/>
<circle cx="188.31" cy="458.96" r="1.25"/>
<circle cx="208.87" cy="458.96" r="0.88"/>
<circle cx="249.98" cy="458.96" r="1.13"/>
<circle cx="270.54" cy="458.96" r="1.88"/>
<circle cx="280.81" cy="458.96" r="0.35"/>
<circle cx="311.65" cy="458.96" r="0.63"/>
<circle cx="332.2" cy="458.96" r="1.88"/>
<circle cx="342.48" cy="458.96" r="1.88"/>
<circle cx="147.2" cy="468.89" r="0.76"/>
<circle cx="167.76" cy="468.89" r="0.76"/>
<circle cx="178.03" cy="468.89" r="0.76"/>
<circle cx="188.31" cy="468.89" r="1.25"/>
<circle cx="198.59" cy="468.89" r="1.38"/>
<circle cx="208.87" cy="468.89" r="0.35"/>
<circle cx="219.15" cy="468.89" r="0.23"/>
<circle cx="260.26" cy="468.89" r="0.63"/>
<circle cx="280.81" cy="468.89" r="0.35"/>
<circle cx="301.37" cy="468.89" r="0.76"/>
<circle cx="311.65" cy="468.89" r="0.63"/>
<circle cx="157.48" cy="478.82" r="0.35"/>
<circle cx="188.31" cy="478.82" r="0.63"/>
<circle cx="239.7" cy="478.82" r="0.63"/>
<circle cx="342.48" cy="478.82" r="1"/>
<circle cx="167.76" cy="488.75" r="2.3"/>
<circle cx="188.31" cy="488.75" r="1.63"/>
<circle cx="208.87" cy="488.75" r="0.76"/>
<circle cx="229.42" cy="488.75" r="0.76"/>
<circle cx="239.7" cy="488.75" r="2.13"/>
<circle cx="249.98" cy="488.75" r="2.63"/>
<circle cx="332.2" cy="488.75" r="5.1"/>
<circle cx="342.48" cy="488.75" r="1.88"/>
<circle cx="147.2" cy="498.69" r="1.38"/>
<circle cx="167.76" cy="498.69" r="1.38"/>
<circle cx="178.03" cy="498.69" r="1.38"/>
<circle cx="188.31" cy="498.69" r="0.63"/>
<circle cx="198.59" cy="498.69" r="2.3"/>
<circle cx="249.98" cy="498.69" r="1.25"/>
<circle cx="301.37" cy="498.69" r="0.63"/>
<circle cx="311.65" cy="498.69" r="0.63"/>
<circle cx="332.2" cy="498.69" r="2.88"/>
<circle cx="342.48" cy="498.69" r="0.76"/>
<circle cx="147.2" cy="508.62" r="1.25"/>
<circle cx="188.31" cy="508.62" r="0.88"/>
<circle cx="198.59" cy="508.62" r="0.76"/>
<circle cx="208.87" cy="508.62" r="0.76"/>
<circle cx="219.15" cy="508.62" r="0.76"/>
<circle cx="229.42" cy="508.62" r="2.88"/>
<circle cx="239.7" cy="508.62" r="0.63"/>
<circle cx="249.98" cy="508.62" r="0.35"/>
<circle cx="301.37" cy="508.62" r="0.63"/>
<circle cx="311.65" cy="508.62" r="0.63"/>
<circle cx="332.2" cy="508.62" r="0.76"/>
<circle cx="147.2" cy="518.55" r="1.38"/>
<circle cx="167.76" cy="518.55" r="1"/>
<circle cx="219.15" cy="518.55" r="0.76"/>
<circle cx="249.98" cy="518.55" r="1.63"/>
<circle cx="260.26" cy="518.55" r="0.35"/>
<circle cx="311.65" cy="518.55" r="0.63"/>
<circle cx="332.2" cy="518.55" r="1.88"/>
<circle cx="342.48" cy="518.55" r="0.88"/>
<circle cx="178.03" cy="528.48" r="0.76"/>
<circle cx="188.31" cy="528.48" r="0.63"/>
<circle cx="198.59" cy="528.48" r="0.35"/>
<circle cx="208.87" cy="528.48" r="0.63"/>
<circle cx="219.15" cy="528.48" r="0.63"/>
<circle cx="229.42" cy="528.48" r="0.76"/>
<circle cx="249.98" cy="528.48" r="0.35"/>
<circle cx="270.54" cy="528.48" r="0.35"/>
<circle cx="280.81" cy="528.48" r="0.88"/>
<circle cx="291.09" cy="528.48" r="0.63"/>
<circle cx="311.65" cy="528.48" r="0.63"/>
<circle cx="321.93" cy="528.48" r="0.63"/>
<circle cx="342.48" cy="528.48" r="0.76"/>
<circle cx="147.2" cy="538.41" r="1"/>
<circle cx="157.48" cy="538.41" r="1.88"/>
<circle cx="167.76" cy="538.41" r="1.38"/>
<circle cx="178.03" cy="538.41" r="0.88"/>
<circle cx="188.31" cy="538.41" r="0.88"/>
<circle cx="208.87" cy="538.41" r="0.63"/>
<circle cx="239.7" cy="538.41" r="0.76"/>
<circle cx="249.98" cy="538.41" r="0.88"/>
<circle cx="260.26" cy="538.41" r="1.25"/>
<circle cx="280.81" cy="538.41" r="0.76"/>
<circle cx="301.37" cy="538.41" r="1.88"/>
<circle cx="311.65" cy="538.41" r="0.63"/>
<circle cx="332.2" cy="538.41" r="5.23"/>
<circle cx="342.48" cy="538.41" r="1.38"/>
<circle cx="157.48" cy="548.35" r="0.35"/>
<circle cx="249.98" cy="548.35" r="0.63"/>
<circle cx="260.26" cy="548.35" r="0.76"/>
<circle cx="270.54" cy="548.35" r="0.88"/>
<circle cx="291.09" cy="548.35" r="0.76"/>
<circle cx="301.37" cy="548.35" r="0.76"/>
<circle cx="311.65" cy="548.35" r="1.25"/>
<circle cx="321.93" cy="548.35" r="0.23"/>
<circle cx="332.2" cy="548.35" r="0.35"/>
<circle cx="342.48" cy="548.35" r="0.35"/>
<circle cx="147.2" cy="558.28" r="0.76"/>
<circle cx="167.76" cy="558.28" r="0.76"/>
<circle cx="198.59" cy="558.28" r="0.76"/>
<circle cx="208.87" cy="558.28" r="0.76"/>
<circle cx="229.42" cy="558.28" r="0.35"/>
<circle cx="249.98" cy="558.28" r="1.63"/>
<circle cx="301.37" cy="558.28" r="0.76"/>
<circle cx="321.93" cy="558.28" r="0.23"/>
<circle cx="332.2" cy="558.28" r="0.88"/>
<circle cx="342.48" cy="558.28" r="0.35"/>
<circle cx="147.2" cy="568.21" r="5.35"/>
<circle cx="157.48" cy="568.21" r="1.63"/>
<circle cx="167.76" cy="568.21" r="0.35"/>
<circle cx="178.03" cy="568.21" r="0.76"/>
<circle cx="198.59" cy="568.21" r="3.63"/>
<circle cx="219.15" cy="568.21" r="0.63"/>
<circle cx="229.42" cy="568.21" r="3.92"/>
<circle cx="239.7" cy="568.21" r="0.23"/>
<circle cx="249.98" cy="568.21" r="0.76"/>
<circle cx="280.81" cy="568.21" r="0.63"/>
<circle cx="332.2" cy="568.21" r="1.88"/>
<circle cx="342.48" cy="568.21" r="0.63"/>
<circle cx="147.2" cy="578.14" r="0.76"/>
<circle cx="157.48" cy="578.14" r="0.35"/>
<circle cx="167.76" cy="578.14" r="1.13"/>
<circle cx="178.03" cy="578.14" r="0.76"/>
<circle cx="198.59" cy="578.14" r="0.23"/>
<circle cx="208.87" cy="578.14" r="0.76"/>
<circle cx="219.15" cy="578.14" r="0.63"/>
<circle cx="229.42" cy="578.14" r="0.76"/>
<circle cx="249.98" cy="578.14" r="1.63"/>
<circle cx="270.54" cy="578.14" r="0.76"/>
<circle cx="291.09" cy="578.14" r="0.76"/>
<circle cx="301.37" cy="578.14" r="0.76"/>
<circle cx="332.2" cy="578.14" r="0.63"/>
<circle cx="342.48" cy="578.14" r="0.76"/>
<circle cx="147.2" cy="588.07" r="2.75"/>
<circle cx="157.48" cy="588.07" r="0.88"/>
<circle cx="188.31" cy="588.07" r="0.88"/>
<circle cx="229.42" cy="588.07" r="1.38"/>
<circle cx="239.7" cy="588.07" r="1.13"/>
<circle cx="260.26" cy="588.07" r="0.63"/>
<circle cx="270.54" cy="588.07" r="0.23"/>
<circle cx="280.81" cy="588.07" r="0.63"/>
<circle cx="291.09" cy="588.07" r="0.63"/>
<circle cx="301.37" cy="588.07" r="0.63"/>
<circle cx="311.65" cy="588.07" r="0.76"/>
<circle cx="332.2" cy="588.07" r="0.76"/>
<circle cx="147.2" cy="598.01" r="0.76"/>
<circle cx="198.59" cy="598.01" r="0.76"/>
<circle cx="208.87" cy="598.01" r="0.88"/>
<circle cx="239.7" cy="598.01" r="0.63"/>
<circle cx="249.98" cy="598.01" r="1.38"/>
<circle cx="270.54" cy="598.01" r="0.88"/>
<circle cx="291.09" cy="598.01" r="1.13"/>
<circle cx="301.37" cy="598.01" r="0.76"/>
<circle cx="321.93" cy="598.01" r="0.63"/>
<circle cx="167.76" cy="607.94" r="0.88"/>
<circle cx="198.59" cy="607.94" r="0.76"/>
<circle cx="208.87" cy="607.94" r="0.76"/>
<circle cx="229.42" cy="607.94" r="0.88"/>
<circle cx="239.7" cy="607.94" r="0.63"/>
<circle cx="249.98" cy="607.94" r="1"/>
<circle cx="260.26" cy="607.94" r="0.76"/>
<circle cx="270.54" cy="607.94" r="1"/>
<circle cx="301.37" cy="607.94" r="0.76"/>
<circle cx="342.48" cy="607.94" r="0.76"/>
<circle cx="147.2" cy="617.87" r="0.23"/>
<circle cx="167.76" cy="617.87" r="0.35"/>
<circle cx="188.31" cy="617.87" r="0.63"/>
<circle cx="198.59" cy="617.87" r="0.63"/>
<circle cx="249.98" cy="617.87" r="1"/>
<circle cx="291.09" cy="617.87" r="1.38"/>
<circle cx="301.37" cy="617.87" r="0.88"/>
<circle cx="188.31" cy="627.8" r="1.38"/>
<circle cx="198.59" cy="627.8" r="0.23"/>
<circle cx="208.87" cy="627.8" r="1.13"/>
<circle cx="260.26" cy="627.8" r="0.76"/>
<circle cx="270.54" cy="627.8" r="1.63"/>
<circle cx="291.09" cy="627.8" r="0.76"/>
<circle cx="301.37" cy="627.8" r="0.76"/>
<circle cx="311.65" cy="627.8" r="0.23"/>
<circle cx="321.93" cy="627.8" r="0.63"/>
<circle cx="332.2" cy="627.8" r="1.63"/>
<circle cx="342.48" cy="627.8" r="0.76"/>
<circle cx="208.87" cy="637.73" r="0.63"/>
<circle cx="219.15" cy="637.73" r="0.63"/>
<circle cx="291.09" cy="637.73" r="0.35"/>
<circle cx="311.65" cy="637.73" r="0.76"/>
<circle cx="321.93" cy="637.73" r="0.63"/>
<circle cx="332.2" cy="637.73" r="0.76"/>
<circle cx="342.48" cy="637.73" r="1.25"/>
<circle cx="167.76" cy="647.67" r="0.63"/>
<circle cx="188.31" cy="647.67" r="1.13"/>
<circle cx="208.87" cy="647.67" r="1.13"/>
<circle cx="219.15" cy="647.67" r="1.38"/>
<circle cx="229.42" cy="647.67" r="0.63"/>
<circle cx="249.98" cy="647.67" r="0.88"/>
<circle cx="260.26" cy="647.67" r="0.35"/>
<circle cx="270.54" cy="647.67" r="1.88"/>
<circle cx="280.81" cy="647.67" r="0.63"/>
<circle cx="291.09" cy="647.67" r="0.76"/>
<circle cx="301.37" cy="647.67" r="0.63"/>
<circle cx="332.2" cy="647.67" r="1.88"/>
<circle cx="342.48" cy="647.67" r="1.25"/>
<circle cx="188.31" cy="657.6" r="1.88"/>
<circle cx="208.87" cy="657.6" r="1.38"/>
<circle cx="229.42" cy="657.6" r="0.76"/>
<circle cx="239.7" cy="657.6" r="0.35"/>
<circle cx="249.98" cy="657.6" r="0.35"/>
<circle cx="260.26" cy="657.6" r="0.76"/>
<circle cx="270.54" cy="657.6" r="2.63"/>
<circle cx="280.81" cy="657.6" r="0.63"/>
<circle cx="291.09" cy="657.6" r="1.13"/>
<circle cx="301.37" cy="657.6" r="0.76"/>
<circle cx="311.65" cy="657.6" r="0.63"/>
<circle cx="321.93" cy="657.6" r="0.63"/>
<circle cx="332.2" cy="657.6" r="1.88"/>
<circle cx="342.48" cy="657.6" r="0.88"/>
<circle cx="167.76" cy="667.53" r="0.63"/>
<circle cx="178.03" cy="667.53" r="0.76"/>
<circle cx="198.59" cy="667.53" r="1.13"/>
<circle cx="208.87" cy="667.53" r="0.35"/>
<circle cx="229.42" cy="667.53" r="0.76"/>
<circle cx="260.26" cy="667.53" r="0.63"/>
<circle cx="280.81" cy="667.53" r="0.63"/>
<circle cx="291.09" cy="667.53" r="0.76"/>
<circle cx="321.93" cy="667.53" r="0.63"/>
<circle cx="332.2" cy="667.53" r="0.76"/>
<circle cx="342.48" cy="667.53" r="1"/>
<circle cx="167.76" cy="677.46" r="0.63"/>
<circle cx="188.31" cy="677.46" r="0.88"/>
<circle cx="198.59" cy="677.46" r="0.63"/>
<circle cx="208.87" cy="677.46" r="0.88"/>
<circle cx="229.42" cy="677.46" r="0.63"/>
<circle cx="249.98" cy="677.46" r="0.63"/>
<circle cx="270.54" cy="677.46" r="2.13"/>
<circle cx="301.37" cy="677.46" r="0.63"/>
<circle cx="311.65" cy="677.46" r="0.63"/>
<circle cx="321.93" cy="677.46" r="0.63"/>
<circle cx="332.2" cy="677.46" r="1.25"/>
<circle cx="342.48" cy="677.46" r="0.63"/>
<circle cx="157.48" cy="687.39" r="0.63"/>
<circle cx="167.76" cy="687.39" r="1.38"/>
<circle cx="178.03" cy="687.39" r="0.35"/>
<circle cx="188.31" cy="687.39" r="0.35"/>
<circle cx="219.15" cy="687.39" r="0.76"/>
<circle cx="229.42" cy="687.39" r="0.35"/>
<circle cx="249.98" cy="687.39" r="0.76"/>
<circle cx="260.26" cy="687.39" r="0.76"/>
<circle cx="270.54" cy="687.39" r="1.13"/>
<circle cx="291.09" cy="687.39" r="0.76"/>
<circle cx="301.37" cy="687.39" r="0.88"/>
<circle cx="311.65" cy="687.39" r="1"/>
<circle cx="321.93" cy="687.39" r="0.88"/>
<circle cx="332.2" cy="687.39" r="1"/>
<circle cx="342.48" cy="687.39" r="0.88"/>
<circle cx="147.2" cy="697.33" r="0.88"/>
<circle cx="167.76" cy="697.33" r="0.88"/>
<circle cx="178.03" cy="697.33" r="1.38"/>
<circle cx="188.31" cy="697.33" r="0.63"/>
<circle cx="208.87" cy="697.33" r="0.35"/>
<circle cx="219.15" cy="697.33" r="2.13"/>
<circle cx="229.42" cy="697.33" r="0.23"/>
<circle cx="249.98" cy="697.33" r="0.63"/>
<circle cx="260.26" cy="697.33" r="0.76"/>
<circle cx="270.54" cy="697.33" r="5.35"/>
<circle cx="280.81" cy="697.33" r="1"/>
<circle cx="301.37" cy="697.33" r="0.88"/>
<circle cx="311.65" cy="697.33" r="2.3"/>
<circle cx="332.2" cy="697.33" r="2.3"/>
<circle cx="342.48" cy="697.33" r="1.63"/>
<circle cx="147.2" cy="707.26" r="0.63"/>
<circle cx="167.76" cy="707.26" r="0.88"/>
<circle cx="208.87" cy="707.26" r="0.63"/>
<circle cx="249.98" cy="707.26" r="0.76"/>
<circle cx="270.54" cy="707.26" r="0.88"/>
<circle cx="208.87" cy="717.19" r="0.76"/>
<circle cx="260.26" cy="717.19" r="0.88"/>
<circle cx="270.54" cy="717.19" r="0.63"/>
<circle cx="280.81" cy="717.19" r="0.76"/>
<circle cx="301.37" cy="717.19" r="0.76"/>
<circle cx="321.93" cy="717.19" r="0.63"/>
<circle cx="332.2" cy="717.19" r="0.76"/>
<circle cx="342.48" cy="717.19" r="0.76"/>
<circle cx="147.2" cy="727.12" r="2.46"/>
<circle cx="157.48" cy="727.12" r="0.76"/>
<circle cx="167.76" cy="727.12" r="1.88"/>
<circle cx="178.03" cy="727.12" r="2.13"/>
<circle cx="188.31" cy="727.12" r="0.76"/>
<circle cx="208.87" cy="727.12" r="0.23"/>
<circle cx="219.15" cy="727.12" r="0.23"/>
<circle cx="229.42" cy="727.12" r="2.88"/>
<circle cx="239.7" cy="727.12" r="0.76"/>
<circle cx="270.54" cy="727.12" r="0.76"/>
<circle cx="280.81" cy="727.12" r="1.38"/>
<circle cx="291.09" cy="727.12" r="0.88"/>
<circle cx="301.37" cy="727.12" r="0.88"/>
<circle cx="311.65" cy="727.12" r="3.63"/>
<circle cx="321.93" cy="727.12" r="0.63"/>
<circle cx="332.2" cy="727.12" r="1.63"/>
<circle cx="342.48" cy="727.12" r="1.25"/>
<circle cx="147.2" cy="737.05" r="0.76"/>
<circle cx="157.48" cy="737.05" r="1.63"/>
<circle cx="167.76" cy="737.05" r="1"/>
<circle cx="188.31" cy="737.05" r="0.76"/>
<circle cx="208.87" cy="737.05" r="0.35"/>
<circle cx="219.15" cy="737.05" r="0.63"/>
<circle cx="229.42" cy="737.05" r="0.63"/>
<circle cx="270.54" cy="737.05" r="0.88"/>
<circle cx="291.09" cy="737.05" r="0.63"/>
<circle cx="301.37" cy="737.05" r="0.88"/>
<circle cx="311.65" cy="737.05" r="0.63"/>
<circle cx="321.93" cy="737.05" r="0.76"/>
<circle cx="332.2" cy="737.05" r="0.88"/>
<circle cx="342.48" cy="737.05" r="0.63"/>
<circle cx="147.2" cy="746.99" r="0.76"/>
<circle cx="157.48" cy="746.99" r="1.63"/>
<circle cx="188.31" cy="746.99" r="0.76"/>
<circle cx="239.7" cy="746.99" r="0.35"/>
<circle cx="260.26" cy="746.99" r="1.13"/>
<circle cx="270.54" cy="746.99" r="1.13"/>
<circle cx="280.81" cy="746.99" r="1.88"/>
<circle cx="291.09" cy="746.99" r="0.63"/>
<circle cx="301.37" cy="746.99" r="0.88"/>
<circle cx="311.65" cy="746.99" r="1.38"/>
<circle cx="321.93" cy="746.99" r="0.63"/>
<circle cx="332.2" cy="746.99" r="0.76"/>
<circle cx="157.48" cy="756.92" r="0.88"/>
<circle cx="167.76" cy="756.92" r="0.88"/>
<circle cx="208.87" cy="756.92" r="0.76"/>
<circle cx="219.15" cy="756.92" r="0.35"/>
<circle cx="249.98" cy="756.92" r="0.88"/>
<circle cx="260.26" cy="756.92" r="0.35"/>
<circle cx="270.54" cy="756.92" r="1.13"/>
<circle cx="291.09" cy="756.92" r="0.76"/>
<circle cx="301.37" cy="756.92" r="0.88"/>
<circle cx="311.65" cy="756.92" r="1.13"/>
<circle cx="321.93" cy="756.92" r="0.76"/>
<circle cx="332.2" cy="756.92" r="0.63"/>
<circle cx="342.48" cy="756.92" r="0.88"/>
</g>
<g class="w">
<circle cx="147.2" cy="419.23" r="1.38"/>
<circle cx="157.48" cy="419.23" r="0.62"/>
<circle cx="178.03" cy="419.23" r="1.88"/>
<circle cx="188.31" cy="419.23" r="2.38"/>
<circle cx="198.59" cy="419.23" r="2.38"/>
<circle cx="219.15" cy="419.23" r="0.62"/>
<circle cx="229.42" cy="419.23" r="0.88"/>
<circle cx="239.7" cy="419.23" r="0.62"/>
<circle cx="260.26" cy="419.23" r="2.5"/>
<circle cx="280.81" cy="419.23" r="1.12"/>
<circle cx="291.09" cy="419.23" r="1.38"/>
<circle cx="301.37" cy="419.23" r="2.5"/>
<circle cx="311.65" cy="419.23" r="1.62"/>
<circle cx="332.2" cy="419.23" r="2.12"/>
<circle cx="167.76" cy="429.16" r="1.88"/>
<circle cx="178.03" cy="429.16" r="1.88"/>
<circle cx="188.31" cy="429.16" r="2.38"/>
<circle cx="198.59" cy="429.16" r="1.12"/>
<circle cx="219.15" cy="429.16" r="1.38"/>
<circle cx="239.7" cy="429.16" r="0.62"/>
<circle cx="260.26" cy="429.16" r="1.62"/>
<circle cx="291.09" cy="429.16" r="2.25"/>
<circle cx="301.37" cy="429.16" r="1.38"/>
<circle cx="311.65" cy="429.16" r="2.12"/>
<circle cx="321.93" cy="429.16" r="0.5"/>
<circle cx="332.2" cy="429.16" r="0.88"/>
<circle cx="342.48" cy="429.16" r="0.62"/>
<circle cx="147.2" cy="439.09" r="1.38"/>
<circle cx="178.03" cy="439.09" r="1.38"/>
<circle cx="188.31" cy="439.09" r="1.12"/>
<circle cx="219.15" cy="439.09" r="1.38"/>
<circle cx="229.42" cy="439.09" r="2.38"/>
<circle cx="239.7" cy="439.09" r="0.5"/>
<circle cx="249.98" cy="439.09" r="1.88"/>
<circle cx="291.09" cy="439.09" r="1.5"/>
<circle cx="311.65" cy="439.09" r="2.38"/>
<circle cx="332.2" cy="439.09" r="0.88"/>
<circle cx="342.48" cy="439.09" r="0.62"/>
<circle cx="147.2" cy="449.03" r="1.12"/>
<circle cx="157.48" cy="449.03" r="2.75"/>
<circle cx="208.87" cy="449.03" r="1.38"/>
<circle cx="219.15" cy="449.03" r="1.12"/>
<circle cx="229.42" cy="449.03" r="0.88"/>
<circle cx="239.7" cy="449.03" r="1.38"/>
<circle cx="280.81" cy="449.03" r="1.38"/>
<circle cx="157.48" cy="458.96" r="1.62"/>
<circle cx="178.03" cy="458.96" r="1.38"/>
<circle cx="198.59" cy="458.96" r="1.38"/>
<circle cx="229.42" cy="458.96" r="3.75"/>
<circle cx="239.7" cy="458.96" r="2.12"/>
<circle cx="260.26" cy="458.96" r="1.62"/>
<circle cx="291.09" cy="458.96" r="2.5"/>
<circle cx="301.37" cy="458.96" r="1.38"/>
<circle cx="321.93" cy="458.96" r="0.5"/>
<circle cx="157.48" cy="468.89" r="1.38"/>
<circle cx="229.42" cy="468.89" r="1.38"/>
<circle cx="239.7" cy="468.89" r="2.12"/>
<circle cx="249.98" cy="468.89" r="1.62"/>
<circle cx="270.54" cy="468.89" r="2"/>
<circle cx="291.09" cy="468.89" r="1.12"/>
<circle cx="321.93" cy="468.89" r="1.38"/>
<circle cx="147.2" cy="478.82" r="0.62"/>
<circle cx="167.76" cy="478.82" r="3"/>
<circle cx="178.03" cy="478.82" r="2.12"/>
<circle cx="198.59" cy="478.82" r="1.88"/>
<circle cx="208.87" cy="478.82" r="0.62"/>
<circle cx="219.15" cy="478.82" r="1.38"/>
<circle cx="229.42" cy="478.82" r="1.88"/>
<circle cx="249.98" cy="478.82" r="1.88"/>
<circle cx="260.26" cy="478.82" r="1.38"/>
<circle cx="270.54" cy="478.82" r="1.5"/>
<circle cx="280.81" cy="478.82" r="1.38"/>
<circle cx="291.09" cy="478.82" r="1.62"/>
<circle cx="301.37" cy="478.82" r="2"/>
<circle cx="311.65" cy="478.82" r="1.38"/>
<circle cx="321.93" cy="478.82" r="1.38"/>
<circle cx="332.2" cy="478.82" r="4"/>
<circle cx="147.2" cy="488.75" r="1.38"/>
<circle cx="178.03" cy="488.75" r="2.12"/>
<circle cx="198.59" cy="488.75" r="1.38"/>
<circle cx="219.15" cy="488.75" r="1.88"/>
<circle cx="260.26" cy="488.75" r="1.88"/>
<circle cx="270.54" cy="488.75" r="2.88"/>
<circle cx="280.81" cy="488.75" r="1.88"/>
<circle cx="291.09" cy="488.75" r="1.38"/>
<circle cx="301.37" cy="488.75" r="1.38"/>
<circle cx="311.65" cy="488.75" r="1.12"/>
<circle cx="321.93" cy="488.75" r="1.38"/>
<circle cx="208.87" cy="498.69" r="1.62"/>
<circle cx="229.42" cy="498.69" r="2.5"/>
<circle cx="239.7" cy="498.69" r="2.5"/>
<circle cx="260.26" cy="498.69" r="1.88"/>
<circle cx="270.54" cy="498.69" r="2.5"/>
<circle cx="280.81" cy="498.69" r="1.12"/>
<circle cx="291.09" cy="498.69" r="2.12"/>
<circle cx="321.93" cy="498.69" r="1.12"/>
<circle cx="167.76" cy="508.62" r="1.88"/>
<circle cx="178.03" cy="508.62" r="0.88"/>
<circle cx="260.26" cy="508.62" r="1.12"/>
<circle cx="291.09" cy="508.62" r="0.88"/>
<circle cx="321.93" cy="508.62" r="1.62"/>
<circle cx="157.48" cy="518.55" r="1.12"/>
<circle cx="178.03" cy="518.55" r="1.38"/>
<circle cx="188.31" cy="518.55" r="1.62"/>
<circle cx="198.59" cy="518.55" r="1.62"/>
<circle cx="229.42" cy="518.55" r="1.38"/>
<circle cx="239.7" cy="518.55" r="1.62"/>
<circle cx="280.81" cy="518.55" r="0.88"/>
<circle cx="291.09" cy="518.55" r="1.62"/>
<circle cx="301.37" cy="518.55" r="2"/>
<circle cx="321.93" cy="518.55" r="1.38"/>
<circle cx="147.2" cy="528.48" r="4.5"/>
<circle cx="157.48" cy="528.48" r="2.12"/>
<circle cx="167.76" cy="528.48" r="2.5"/>
<circle cx="239.7" cy="528.48" r="2.38"/>
<circle cx="301.37" cy="528.48" r="1.88"/>
<circle cx="332.2" cy="528.48" r="0.62"/>
<circle cx="198.59" cy="538.41" r="1.88"/>
<circle cx="219.15" cy="538.41" r="1.38"/>
<circle cx="229.42" cy="538.41" r="2.38"/>
<circle cx="270.54" cy="538.41" r="2.25"/>
<circle cx="291.09" cy="538.41" r="1.38"/>
<circle cx="321.93" cy="538.41" r="1.38"/>
<circle cx="147.2" cy="548.35" r="1.38"/>
<circle cx="178.03" cy="548.35" r="1.62"/>
<circle cx="188.31" cy="548.35" r="1.88"/>
<circle cx="198.59" cy="548.35" r="3"/>
<circle cx="219.15" cy="548.35" r="1.12"/>
<circle cx="229.42" cy="548.35" r="1.12"/>
<circle cx="239.7" cy="548.35" r="1.62"/>
<circle cx="280.81" cy="548.35" r="1.12"/>
<circle cx="178.03" cy="558.28" r="1.62"/>
<circle cx="188.31" cy="558.28" r="2.12"/>
<circle cx="239.7" cy="558.28" r="1.38"/>
<circle cx="260.26" cy="558.28" r="2.12"/>
<circle cx="270.54" cy="558.28" r="1.12"/>
<circle cx="291.09" cy="558.28" r="2.5"/>
<circle cx="311.65" cy="558.28" r="1.88"/>
<circle cx="188.31" cy="568.21" r="3"/>
<circle cx="208.87" cy="568.21" r="1.12"/>
<circle cx="270.54" cy="568.21" r="2.12"/>
<circle cx="291.09" cy="568.21" r="1.62"/>
<circle cx="301.37" cy="568.21" r="1.75"/>
<circle cx="321.93" cy="568.21" r="1.62"/>
<circle cx="188.31" cy="578.14" r="2.5"/>
<circle cx="239.7" cy="578.14" r="1.12"/>
<circle cx="280.81" cy="578.14" r="1.62"/>
<circle cx="311.65" cy="578.14" r="2.25"/>
<circle cx="321.93" cy="578.14" r="0.62"/>
<circle cx="167.76" cy="588.07" r="1.38"/>
<circle cx="178.03" cy="588.07" r="2.75"/>
<circle cx="198.59" cy="588.07" r="1.62"/>
<circle cx="208.87" cy="588.07" r="1.62"/>
<circle cx="219.15" cy="588.07" r="0.75"/>
<circle cx="249.98" cy="588.07" r="3.25"/>
<circle cx="321.93" cy="588.07" r="1.25"/>
<circle cx="342.48" cy="588.07" r="1.25"/>
<circle cx="157.48" cy="598.01" r="1.25"/>
<circle cx="167.76" cy="598.01" r="1.25"/>
<circle cx="178.03" cy="598.01" r="1.62"/>
<circle cx="188.31" cy="598.01" r="3"/>
<circle cx="219.15" cy="598.01" r="1.25"/>
<circle cx="229.42" cy="598.01" r="1.38"/>
<circle cx="280.81" cy="598.01" r="2"/>
<circle cx="311.65" cy="598.01" r="2.12"/>
<circle cx="332.2" cy="598.01" r="2.38"/>
<circle cx="342.48" cy="598.01" r="2.5"/>
<circle cx="147.2" cy="607.94" r="1.12"/>
<circle cx="157.48" cy="607.94" r="1.12"/>
<circle cx="178.03" cy="607.94" r="1.88"/>
<circle cx="188.31" cy="607.94" r="3"/>
<circle cx="219.15" cy="607.94" r="1.88"/>
<circle cx="280.81" cy="607.94" r="2.25"/>
<circle cx="311.65" cy="607.94" r="2.75"/>
<circle cx="321.93" cy="607.94" r="1.12"/>
<circle cx="332.2" cy="607.94" r="1.88"/>
<circle cx="157.48" cy="617.87" r="1.38"/>
<circle cx="208.87" cy="617.87" r="0.88"/>
<circle cx="219.15" cy="617.87" r="1.38"/>
<circle cx="229.42" cy="617.87" r="3.5"/>
<circle cx="239.7" cy="617.87" r="2.5"/>
<circle cx="260.26" cy="617.87" r="1.38"/>
<circle cx="270.54" cy="617.87" r="2.5"/>
<circle cx="280.81" cy="617.87" r="1.5"/>
<circle cx="321.93" cy="617.87" r="1.38"/>
<circle cx="332.2" cy="617.87" r="2.12"/>
<circle cx="342.48" cy="617.87" r="1.12"/>
<circle cx="147.2" cy="627.8" r="1.62"/>
<circle cx="157.48" cy="627.8" r="1.88"/>
<circle cx="167.76" cy="627.8" r="2.12"/>
<circle cx="178.03" cy="627.8" r="1.62"/>
<circle cx="219.15" cy="627.8" r="1.62"/>
<circle cx="229.42" cy="627.8" r="3.75"/>
<circle cx="239.7" cy="627.8" r="2.12"/>
<circle cx="249.98" cy="627.8" r="1.62"/>
<circle cx="280.81" cy="627.8" r="1"/>
<circle cx="147.2" cy="637.73" r="2.5"/>
<circle cx="157.48" cy="637.73" r="1.88"/>
<circle cx="178.03" cy="637.73" r="1.88"/>
<circle cx="229.42" cy="637.73" r="2.12"/>
<circle cx="239.7" cy="637.73" r="2.38"/>
<circle cx="249.98" cy="637.73" r="1.12"/>
<circle cx="260.26" cy="637.73" r="1.88"/>
<circle cx="280.81" cy="637.73" r="1.38"/>
<circle cx="301.37" cy="637.73" r="2.25"/>
<circle cx="147.2" cy="647.67" r="1.62"/>
<circle cx="157.48" cy="647.67" r="2.12"/>
<circle cx="178.03" cy="647.67" r="1.62"/>
<circle cx="198.59" cy="647.67" r="1.38"/>
<circle cx="239.7" cy="647.67" r="3"/>
<circle cx="321.93" cy="647.67" r="0.5"/>
<circle cx="147.2" cy="657.6" r="2.38"/>
<circle cx="178.03" cy="657.6" r="2.12"/>
<circle cx="198.59" cy="657.6" r="1.38"/>
<circle cx="147.2" cy="667.53" r="1.38"/>
<circle cx="157.48" cy="667.53" r="1.88"/>
<circle cx="219.15" cy="667.53" r="0.62"/>
<circle cx="239.7" cy="667.53" r="1.62"/>
<circle cx="270.54" cy="667.53" r="0.88"/>
<circle cx="301.37" cy="667.53" r="2.5"/>
<circle cx="147.2" cy="677.46" r="2.12"/>
<circle cx="157.48" cy="677.46" r="0.88"/>
<circle cx="178.03" cy="677.46" r="1.38"/>
<circle cx="219.15" cy="677.46" r="1.62"/>
<circle cx="260.26" cy="677.46" r="0.62"/>
<circle cx="291.09" cy="677.46" r="2.38"/>
<circle cx="147.2" cy="687.39" r="1.38"/>
<circle cx="198.59" cy="687.39" r="1.12"/>
<circle cx="208.87" cy="687.39" r="1.62"/>
<circle cx="239.7" cy="687.39" r="1.88"/>
<circle cx="280.81" cy="687.39" r="0.62"/>
<circle cx="157.48" cy="697.33" r="0.88"/>
<circle cx="198.59" cy="697.33" r="1.62"/>
<circle cx="239.7" cy="697.33" r="0.62"/>
<circle cx="291.09" cy="697.33" r="2.75"/>
<circle cx="321.93" cy="697.33" r="1.12"/>
<circle cx="178.03" cy="707.26" r="2.12"/>
<circle cx="188.31" cy="707.26" r="2.5"/>
<circle cx="198.59" cy="707.26" r="1.12"/>
<circle cx="229.42" cy="707.26" r="0.5"/>
<circle cx="260.26" cy="707.26" r="1.12"/>
<circle cx="280.81" cy="707.26" r="1.38"/>
<circle cx="291.09" cy="707.26" r="2"/>
<circle cx="301.37" cy="707.26" r="1.88"/>
<circle cx="311.65" cy="707.26" r="1.62"/>
<circle cx="321.93" cy="707.26" r="0.5"/>
<circle cx="332.2" cy="707.26" r="2.12"/>
<circle cx="147.2" cy="717.19" r="2.75"/>
<circle cx="157.48" cy="717.19" r="1.38"/>
<circle cx="167.76" cy="717.19" r="1.12"/>
<circle cx="178.03" cy="717.19" r="1.62"/>
<circle cx="188.31" cy="717.19" r="1.38"/>
<circle cx="198.59" cy="717.19" r="1.38"/>
<circle cx="219.15" cy="717.19" r="0.88"/>
<circle cx="229.42" cy="717.19" r="1.38"/>
<circle cx="239.7" cy="717.19" r="2.5"/>
<circle cx="249.98" cy="717.19" r="1.62"/>
<circle cx="291.09" cy="717.19" r="0.88"/>
<circle cx="311.65" cy="717.19" r="1.38"/>
<circle cx="198.59" cy="727.12" r="2.12"/>
<circle cx="249.98" cy="727.12" r="2.12"/>
<circle cx="260.26" cy="727.12" r="1.12"/>
<circle cx="178.03" cy="737.05" r="2.38"/>
<circle cx="198.59" cy="737.05" r="2.75"/>
<circle cx="239.7" cy="737.05" r="1.12"/>
<circle cx="249.98" cy="737.05" r="2.75"/>
<circle cx="167.76" cy="746.99" r="1.12"/>
<circle cx="178.03" cy="746.99" r="1.88"/>
<circle cx="198.59" cy="746.99" r="2.75"/>
<circle cx="208.87" cy="746.99" r="1.38"/>
<circle cx="219.15" cy="746.99" r="1.12"/>
<circle cx="229.42" cy="746.99" r="2.38"/>
<circle cx="249.98" cy="746.99" r="0.88"/>
<circle cx="147.2" cy="756.92" r="1.38"/>
<circle cx="178.03" cy="756.92" r="2.12"/>
<circle cx="188.31" cy="756.92" r="1.62"/>
<circle cx="198.59" cy="756.92" r="3"/>
<circle cx="239.7" cy="756.92" r="2.12"/>
</g>
</g>
</svg>
</body></html>
